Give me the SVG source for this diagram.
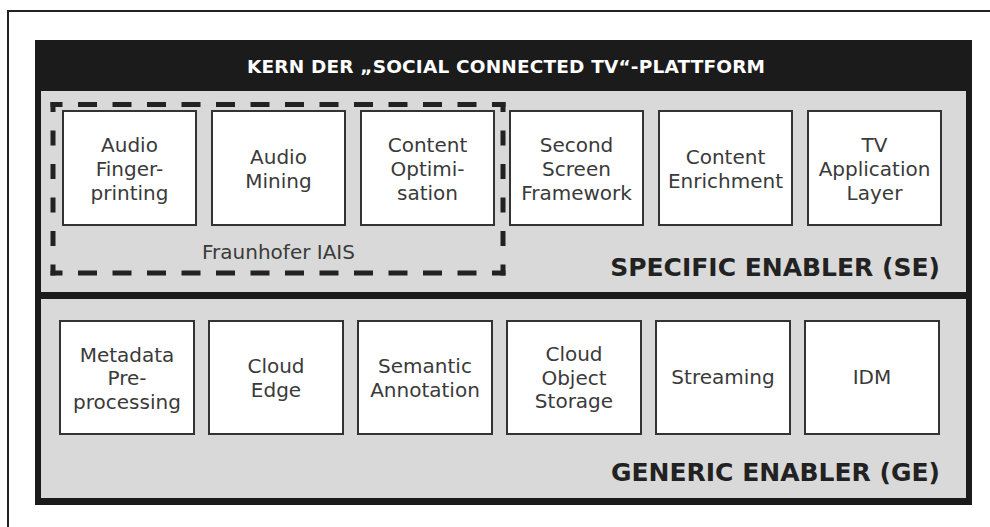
<svg xmlns="http://www.w3.org/2000/svg" width="990" height="527" viewBox="0 0 990 527">
  <style>
    .lbl { font-family: "DejaVu Sans", "Liberation Sans", sans-serif; font-size: 20px; fill: #3a3a3a; text-anchor: middle; }
    .box { fill: #fff; stroke: #333; stroke-width: 2; }
    .layer { fill: #d9d9d9; }
    .title { font-family: "DejaVu Sans", "Liberation Sans", sans-serif; font-weight: bold; }
    .dash { stroke: #222; stroke-width: 5; fill: none; }
  </style>
  <rect width="990" height="527" fill="#fff"/>
  <!-- outer frame -->
  <path d="M 8 527 V 11 H 990" fill="none" stroke="#222" stroke-width="2"/>

  <!-- platform core -->
  <g id="platform">
    <rect x="35" y="40" width="937" height="465" fill="#1b1b1b"/>
    <text class="title" x="506" y="73" font-size="18.5" fill="#fff" text-anchor="middle" textLength="518" lengthAdjust="spacing">KERN DER „SOCIAL CONNECTED TV“-PLATTFORM</text>
  </g>

  <!-- specific enabler layer -->
  <g id="se-layer">
    <rect class="layer" x="41" y="91" width="925" height="201"/>
    <text class="title" x="940" y="276" font-size="25" fill="#222" text-anchor="end">SPECIFIC ENABLER (SE)</text>
  </g>

  <!-- generic enabler layer -->
  <g id="ge-layer">
    <rect class="layer" x="41" y="299" width="925" height="199"/>
    <text class="title" x="940" y="481" font-size="25" fill="#222" text-anchor="end">GENERIC ENABLER (GE)</text>
  </g>

  <!-- Fraunhofer IAIS grouping -->
  <g id="fraunhofer">
    <line class="dash" x1="50.5" y1="104.5" x2="505.5" y2="104.5" stroke-dasharray="19 15.5" stroke-dashoffset="7"/>
    <line class="dash" x1="50.5" y1="273" x2="505.5" y2="273" stroke-dasharray="19 15.5" stroke-dashoffset="7"/>
    <line class="dash" x1="53" y1="102" x2="53" y2="275.5" stroke-dasharray="15 18.5" stroke-dashoffset="5"/>
    <line class="dash" x1="503" y1="102" x2="503" y2="275.5" stroke-dasharray="15 18.5" stroke-dashoffset="5"/>
    <text class="lbl" x="278.5" y="259">Fraunhofer IAIS</text>
  </g>

  <!-- SE nodes -->
  <g id="audio-fingerprinting">
    <rect class="box" x="63" y="111" width="133" height="114"/>
    <text class="lbl" x="129.5" y="152">Audio</text>
    <text class="lbl" x="129.5" y="176">Finger-</text>
    <text class="lbl" x="129.5" y="200">printing</text>
  </g>
  <g id="audio-mining">
    <rect class="box" x="212" y="111" width="133" height="114"/>
    <text class="lbl" x="278.5" y="164">Audio</text>
    <text class="lbl" x="278.5" y="188">Mining</text>
  </g>
  <g id="content-optimisation">
    <rect class="box" x="361" y="111" width="133" height="114"/>
    <text class="lbl" x="427.5" y="152">Content</text>
    <text class="lbl" x="427.5" y="176">Optimi-</text>
    <text class="lbl" x="427.5" y="200">sation</text>
  </g>
  <g id="second-screen">
    <rect class="box" x="510" y="111" width="133" height="114"/>
    <text class="lbl" x="576.5" y="152">Second</text>
    <text class="lbl" x="576.5" y="176">Screen</text>
    <text class="lbl" x="576.5" y="200">Framework</text>
  </g>
  <g id="content-enrichment">
    <rect class="box" x="659" y="111" width="133" height="114"/>
    <text class="lbl" x="725.5" y="164">Content</text>
    <text class="lbl" x="725.5" y="188">Enrichment</text>
  </g>
  <g id="tv-application-layer">
    <rect class="box" x="808" y="111" width="133" height="114"/>
    <text class="lbl" x="874.5" y="152">TV</text>
    <text class="lbl" x="874.5" y="176">Application</text>
    <text class="lbl" x="874.5" y="200">Layer</text>
  </g>

  <!-- GE nodes -->
  <g id="metadata-preprocessing">
    <rect class="box" x="60" y="321" width="134" height="113"/>
    <text class="lbl" x="127" y="362">Metadata</text>
    <text class="lbl" x="127" y="385">Pre-</text>
    <text class="lbl" x="127" y="409">processing</text>
  </g>
  <g id="cloud-edge">
    <rect class="box" x="209" y="321" width="134" height="113"/>
    <text class="lbl" x="276" y="373">Cloud</text>
    <text class="lbl" x="276" y="397">Edge</text>
  </g>
  <g id="semantic-annotation">
    <rect class="box" x="358" y="321" width="134" height="113"/>
    <text class="lbl" x="425" y="373">Semantic</text>
    <text class="lbl" x="425" y="397">Annotation</text>
  </g>
  <g id="cloud-object-storage">
    <rect class="box" x="507" y="321" width="134" height="113"/>
    <text class="lbl" x="574" y="361">Cloud</text>
    <text class="lbl" x="574" y="385">Object</text>
    <text class="lbl" x="574" y="408">Storage</text>
  </g>
  <g id="streaming">
    <rect class="box" x="656" y="321" width="134" height="113"/>
    <text class="lbl" x="723" y="384">Streaming</text>
  </g>
  <g id="idm">
    <rect class="box" x="805" y="321" width="134" height="113"/>
    <text class="lbl" x="872" y="384">IDM</text>
  </g>

  <g id="connectors"/>
</svg>
